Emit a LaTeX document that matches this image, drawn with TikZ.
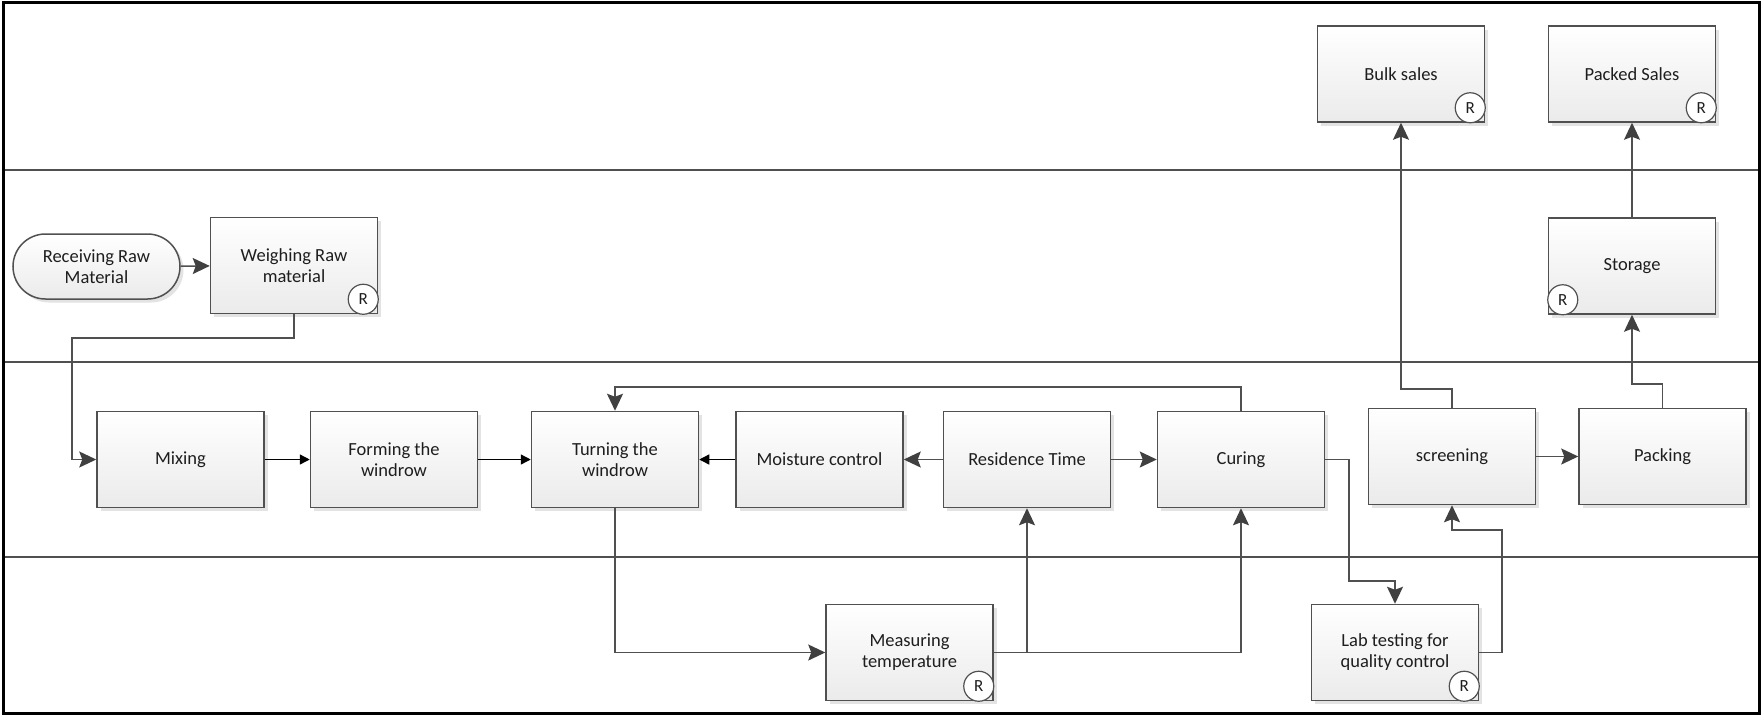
\documentclass[tikz,border=0pt]{standalone}
\usepackage{fontspec}
\setmainfont{Carlito}
\usetikzlibrary{arrows.meta,shapes.misc,shadows,calc}
\definecolor{lnc}{HTML}{505050}
\definecolor{txc}{HTML}{1E1E1E}
\definecolor{tipc}{HTML}{404040}
\tikzset{
  proc/.style={rectangle, draw=lnc, line width=1.5pt, top color=white, bottom color=black!8,
    minimum width=167pt, minimum height=96pt, align=center, text=txc, inner sep=0pt,
    font=\fontsize{18.5}{21}\selectfont,
    drop shadow={shadow xshift=3.5pt, shadow yshift=-3.5pt, fill=black!11, opacity=1}},
  term/.style={proc, rounded rectangle, minimum height=65pt},
  rmark/.style={circle, draw=lnc, line width=1.2pt, fill=white, minimum size=30pt, inner sep=0pt,
    text=txc, font=\fontsize{17}{17}\selectfont},
  conn/.style={draw=lnc, line width=1.5pt},
  big/.style={conn, -{Stealth[length=17pt,width=16pt,inset=3pt,color=tipc]}},
  small/.style={draw=black, line width=1.4pt, -{Triangle[length=10pt,width=10pt]}},
  lane/.style={draw=lnc, line width=1.5pt},
  frame/.style={draw=black, line width=3pt}
}
\begin{document}
\begin{tikzpicture}[x=1pt,y=-1pt]
\useasboundingbox (0,0) rectangle (1761,716);
\fill[white] (0,0) rectangle (1761,716);
% lanes
\draw[lane] (3,170) -- (1759,170);
\draw[lane] (3,362) -- (1759,362);
\draw[lane] (3,557) -- (1759,557);
\draw[frame] (3,2) rectangle (1759,713);
% nodes
\node[term] (recv) at (96.5,266.5) {Receiving Raw\\Material};
\node[proc] (weigh) at (294,265.5) {Weighing Raw\\material};
\node[proc] (bulk) at (1401,74) {Bulk sales};
\node[proc] (packed) at (1632,74) {Packed Sales};
\node[proc] (stor) at (1632,266) {Storage};
\node[proc] (mix) at (180.5,459.5) {Mixing};
\node[proc] (form) at (394,459.5) {Forming the\\windrow};
\node[proc] (turn) at (615,459.5) {Turning the\\windrow};
\node[proc] (moist) at (819.5,459.5) {Moisture control};
\node[proc] (res) at (1027,459.5) {Residence Time};
\node[proc] (cure) at (1241,459.5) {Curing};
\node[proc] (scr) at (1452,456.5) {screening};
\node[proc] (pack) at (1662.5,456.5) {Packing};
\node[proc] (meas) at (909.5,652.5) {Measuring\\temperature};
\node[proc] (lab) at (1395,652.5) {Lab testing for\\quality control};
% R marks
\node[rmark] (rw) at ($(weigh.south east)+(-15,-15)$) {R};
\node[rmark] (rb) at ($(bulk.south east)+(-15,-15)$) {R};
\node[rmark] (rp) at ($(packed.south east)+(-15,-15)$) {R};
\node[rmark] (rs) at ($(stor.south west)+(15,-15)$) {R};
\node[rmark] (rm) at ($(meas.south east)+(-15,-15)$) {R};
\node[rmark] (rl) at ($(lab.south east)+(-15,-15)$) {R};
% connector bends
\coordinate (w1) at (72,338);
\coordinate (c2) at (1349,581);
\coordinate (l1) at (1502,530);
\coordinate (s1) at (1401,389);
\coordinate (p1) at (1632,384);
% connectors
\draw[big] (recv) -- (weigh);
\draw[big] (weigh.south) |- (w1) |- (mix.west);
\draw[small] (mix) -- (form);
\draw[small] (form) -- (turn);
\draw[small] (moist) -- (turn);
\draw[big] (res) -- (moist);
\draw[big] (res) -- (cure);
\draw[big] (cure.north) -- ++(0,-24) -| (turn.north);
\draw[big] (turn.south) |- (meas.west);
\draw[big] (meas.east) -| (res.south);
\draw[big] (meas.east) -| (cure.south);
\draw[big] (cure.east) -| (c2) -| (lab.north);
\draw[big] (lab.east) -| (l1) -| (scr.south);
\draw[big] (scr.north) |- (s1) -- (bulk.south);
\draw[big] (scr) -- (pack);
\draw[big] (pack.north) |- (p1) -- (stor.south);
\draw[big] (stor) -- (packed);
\end{tikzpicture}
\end{document}
